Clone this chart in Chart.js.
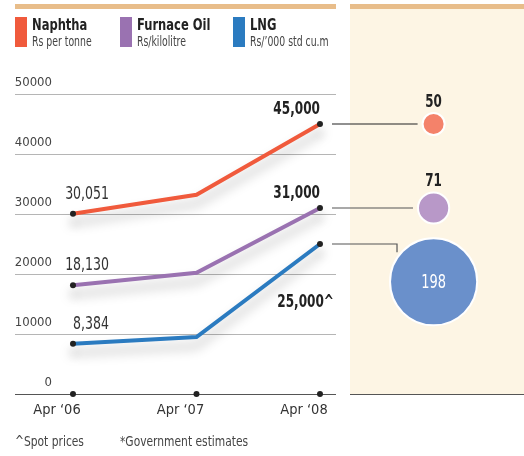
<!DOCTYPE html>
<html>
<head>
<meta charset="utf-8">
<script src="https://cdn.jsdelivr.net/npm/chart.js@4"></script>
<style>
  body { margin: 0; background: #fff; }
</style>
</head>
<body>
<canvas id="fuelChart" width="524" height="456"></canvas>
<script>
    // data
    const dates = ['Apr \u201806', 'Apr \u201807', 'Apr \u201808'];
    const seriesNames = ['Naphtha', 'Furnace Oil', 'LNG'];
    const seriesUnits = ['Rs per tonne', 'Rs/kilolitre', 'Rs/\u2019000 std cu.m'];
    const naphtha = [30051, 33200, 45000];
    const furnaceOil = [18130, 20200, 31000];
    const lng = [8384, 9500, 25000];
    const pctRise = [50, 71, 198];          // % rise Apr'06 -> Apr'08, shown as bubbles
    const bubbleLevel = [45000, 31000, 18700];
    const yTicks = [0, 10000, 20000, 30000, 40000, 50000];
    const footnotes = ['^Spot prices', '*Government estimates'];

    const FONT = "'Liberation Sans Narrow', 'DejaVu Sans Condensed', 'Roboto', sans-serif";
    const lineColors = ['#f05a3c', '#9a72b1', '#2b7bc0'];
    const bubbleColors = ['#f4826a', '#b898c8', '#6a90cb'];
    const endSuffix = ['', '', '^'];
    const endLabelOffset = [[0, -10], [0, -10], [14, 63]];
    const bubbleX = 2.92;

    Chart.defaults.font.family = FONT;
    Chart.defaults.color = '#333';

    const series = [naphtha, furnaceOil, lng];
    const fmt = v => v.toLocaleString('en-US');

    // the installed fonts are wider than the original condensed face, so squeeze text a bit
    function txt(c, s, x, y, squeeze) {
        const w = c.measureText(s).width;
        c.fillText(s, x, y, w * squeeze);
    }

    const lineSets = series.map((vals, i) => ({
        type: 'line',
        label: seriesNames[i],
        data: vals.map((v, j) => ({ x: j, y: v })),
        borderColor: lineColors[i],
        borderWidth: 4,
        tension: 0,
        pointRadius: [3, 0, 3],
        pointBackgroundColor: '#222',
        pointBorderWidth: 0,
        clip: false
    }));

    const bubbleSet = {
        type: 'bubble',
        label: 'rise',
        data: pctRise.map((p, i) => ({ x: bubbleX, y: bubbleLevel[i], r: p * 0.22 })),
        backgroundColor: bubbleColors,
        borderColor: '#fff',
        borderWidth: 2,
        clip: false
    };

    const decor = {
        id: 'decor',
        beforeDraw(chart) {
            const c = chart.ctx;
            c.save();
            c.fillStyle = '#e8bd8a';
            c.fillRect(15, 4, 321, 5);
            c.fillRect(350, 4, 174, 5);
            c.restore();
        },
        beforeDatasetsDraw(chart) {
            // right panel sits over the grid, leaving a white gap
            const c = chart.ctx;
            c.save();
            c.fillStyle = '#fff';
            c.fillRect(336, 9, 14, 390);
            c.fillStyle = '#fdf5e4';
            c.fillRect(350, 9, 174, 385);
            c.restore();
        },
        beforeDatasetDraw(chart, args) {
            if (args.meta.type === 'line') {
                const c = chart.ctx;
                c.save();
                c.shadowColor = 'rgba(0,0,0,0.28)';
                c.shadowBlur = 12;
                c.shadowOffsetY = 9;
            }
        },
        afterDatasetDraw(chart, args) {
            if (args.meta.type === 'line') chart.ctx.restore();
        },
        afterDraw(chart) {
            const c = chart.ctx;
            const xs = chart.scales.x, ys = chart.scales.y;
            c.save();

            // dots on the x axis
            c.fillStyle = '#222';
            dates.forEach((d, j) => {
                c.beginPath();
                c.arc(xs.getPixelForValue(j), ys.getPixelForValue(0), 3, 0, Math.PI * 2);
                c.fill();
            });

            series.forEach((vals, i) => {
                const x0 = xs.getPixelForValue(0), y0 = ys.getPixelForValue(vals[0]);
                const x2 = xs.getPixelForValue(2), y2 = ys.getPixelForValue(vals[2]);

                // start value
                c.fillStyle = '#333';
                c.font = '17px ' + FONT;
                c.textAlign = 'right';
                c.textBaseline = 'alphabetic';
                txt(c, fmt(vals[0]), x0 + 36, y0 - 15, 0.82);

                // end value
                c.font = 'bold 17px ' + FONT;
                c.fillStyle = '#222';
                txt(c, fmt(vals[2]) + endSuffix[i], x2 + endLabelOffset[i][0], y2 + endLabelOffset[i][1], 0.79);

                // leader line to bubble
                const el = chart.getDatasetMeta(3).data[i];
                const r = pctRise[i] * 0.22;
                c.strokeStyle = i === 0 ? '#222' : '#555';
                c.lineWidth = 1.2;
                c.beginPath();
                c.moveTo(x2 + 12, y2);
                if (Math.abs(el.y - y2) < 5) {
                    c.lineTo(el.x - r - 5, y2);
                } else {
                    const dx = r * 0.84;
                    c.lineTo(el.x - dx, y2);
                    c.lineTo(el.x - dx, el.y - Math.sqrt(r * r - dx * dx) - 6);
                }
                c.stroke();

                // bubble label
                c.textAlign = 'center';
                if (r > 25) {
                    c.fillStyle = '#fff';
                    c.font = '19px ' + FONT;
                    c.textBaseline = 'middle';
                    txt(c, String(pctRise[i]), el.x, el.y + 1, 0.76);
                } else {
                    c.fillStyle = '#222';
                    c.font = 'bold 17px ' + FONT;
                    c.textBaseline = 'alphabetic';
                    txt(c, String(pctRise[i]), el.x, el.y - r - 6, 0.78);
                }
            });

            // legend
            const legX = [15, 120, 233];
            seriesNames.forEach((n, i) => {
                c.fillStyle = lineColors[i];
                c.fillRect(legX[i], 17, 12, 30);
                c.textAlign = 'left';
                c.textBaseline = 'alphabetic';
                c.fillStyle = '#222';
                c.font = 'bold 16px ' + FONT;
                txt(c, n, legX[i] + 17, 30, 0.8);
                c.fillStyle = '#444';
                c.font = '14px ' + FONT;
                txt(c, seriesUnits[i], legX[i] + 17, 46, 0.74);
            });

            // footnotes
            c.fillStyle = '#444';
            c.font = '14px ' + FONT;
            txt(c, footnotes[0], 15, 446, 0.85);
            txt(c, footnotes[1], 120, 446, 0.85);
            c.restore();
        }
    };

    const ctx = document.getElementById('fuelChart').getContext('2d');

    const config = {
        data: { datasets: [...lineSets, bubbleSet] },
        options: {
            responsive: false,
            animation: false,
            events: [],
            layout: { autoPadding: false, padding: { left: 15, right: 0, top: 94, bottom: 32 } },
            plugins: { legend: { display: false }, tooltip: { enabled: false } },
            scales: {
                x: {
                    type: 'linear',
                    min: -0.17,
                    max: 3.652,
                    afterBuildTicks: s => { s.ticks = dates.map((d, j) => ({ value: j })); },
                    afterFit: s => { s.height = 30; s.paddingLeft = 0; s.paddingRight = 0; },
                    grid: { display: false, drawTicks: false },
                    border: { display: false },
                    ticks: {
                        callback: v => dates[v],
                        labelOffset: -16,
                        padding: 8,
                        maxRotation: 0,
                        color: '#333',
                        font: { size: 14.5 }
                    }
                },
                y: {
                    min: 0,
                    max: 50000,
                    afterBuildTicks: s => { s.ticks = yTicks.map(v => ({ value: v })); },
                    afterFit: s => { s.width = 37; s.paddingTop = 0; s.paddingBottom = 0; },
                    border: { display: false },
                    grid: {
                        drawTicks: true,
                        tickLength: 37,
                        color: c => c.tick && c.tick.value === 0 ? '#555' : '#b5b5b5',
                        lineWidth: 1
                    },
                    ticks: {
                        callback: v => String(v),
                        padding: -37,
                        labelOffset: -11,
                        color: '#444',
                        font: { size: 13 }
                    }
                }
            }
        },
        plugins: [decor]
    };

    const fuelChart = new Chart(ctx, config);
</script>
</body>
</html>
